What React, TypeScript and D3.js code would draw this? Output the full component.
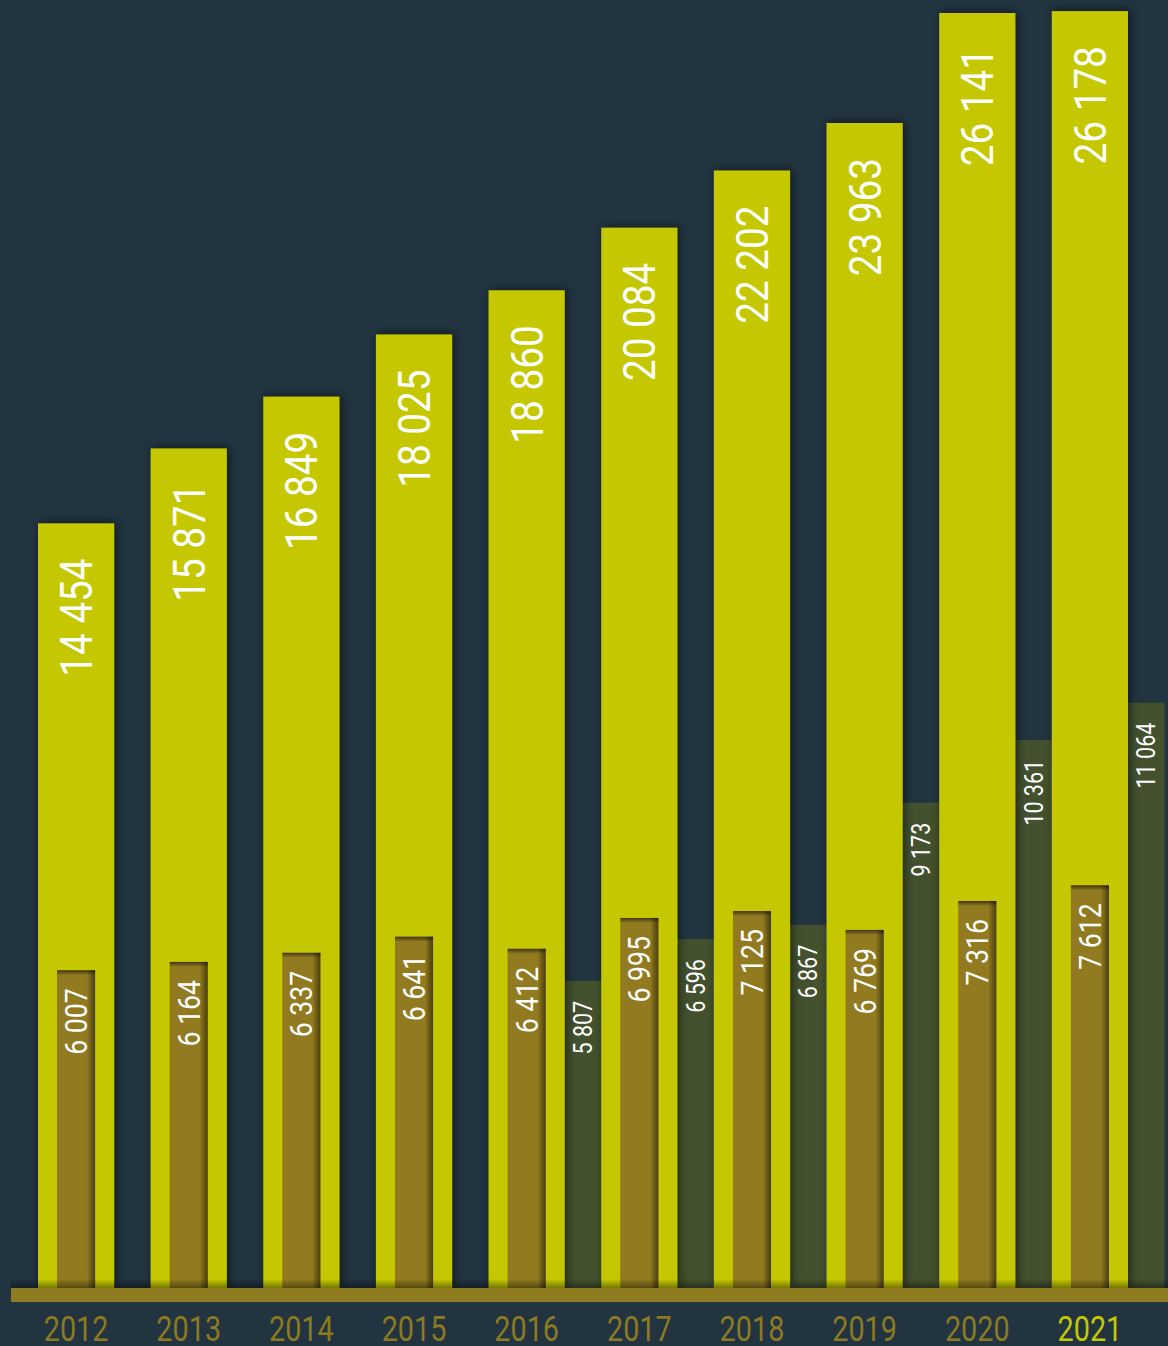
import * as d3 from "d3"
import { useEffect, useRef } from "react"

const years = ["2012", "2013", "2014", "2015", "2016", "2017", "2018", "2019", "2020", "2021"]
const totalValues = [14454, 15871, 16849, 18025, 18860, 20084, 22202, 23963, 26141, 26178]
const innerValues = [6007, 6164, 6337, 6641, 6412, 6995, 7125, 6769, 7316, 7612]
// third series only starts in 2016
const sideValues: (number | null)[] = [null, null, null, null, 5807, 6596, 6867, 9173, 10361, 11064]
const highlightYear = "2021"

const W = 1168
const H = 1346
const baseline = 1288

const colors = {
  bg: "#213440",
  yellow: "#c5c800",
  brown: "#917a1f",
  olive: "#43512e",
  axis: "#8f7b20",
  year: "#8c7a22",
}

const fmt = d3.formatLocale({
  decimal: ",",
  thousands: " ",
  grouping: [3],
  currency: ["", ""],
}).format(",d")

const App = () => {
  const svgRef = useRef<SVGSVGElement | null>(null)

  useEffect(() => {
    if (!svgRef.current) return
    const svg = d3.select(svgRef.current)
    svg.selectAll("*").remove()

    const defs = svg.append("defs")

    const shadow = defs.append("filter").attr("id", "barShadow")
      .attr("x", "-30%").attr("y", "-5%").attr("width", "160%").attr("height", "110%")
    shadow.append("feDropShadow")
      .attr("dx", 2).attr("dy", -1).attr("stdDeviation", 5)
      .attr("flood-color", "#000").attr("flood-opacity", 0.55)

    const rightShade = defs.append("linearGradient").attr("id", "rightShade")
    rightShade.append("stop").attr("offset", "0%").attr("stop-color", "#000").attr("stop-opacity", 0)
    rightShade.append("stop").attr("offset", "100%").attr("stop-color", "#000").attr("stop-opacity", 0.5)

    const topShade = defs.append("linearGradient").attr("id", "topShade")
      .attr("x1", 0).attr("y1", 0).attr("x2", 0).attr("y2", 1)
    topShade.append("stop").attr("offset", "0%").attr("stop-color", "#000").attr("stop-opacity", 0.55)
    topShade.append("stop").attr("offset", "100%").attr("stop-color", "#000").attr("stop-opacity", 0)

    const axisShade = defs.append("linearGradient").attr("id", "axisShade")
      .attr("x1", 0).attr("y1", 0).attr("x2", 0).attr("y2", 1)
    axisShade.append("stop").attr("offset", "0%").attr("stop-color", "#000").attr("stop-opacity", 0)
    axisShade.append("stop").attr("offset", "100%").attr("stop-color", "#000").attr("stop-opacity", 0.4)

    // background
    svg.append("rect").attr("width", W).attr("height", H).attr("fill", colors.bg)

    const x = d3.scaleBand<string>()
      .domain(years)
      .range([38, 1128])
      .paddingInner(0.324)
      .paddingOuter(0)

    // the original is not drawn to one linear scale: the tallest bars are squeezed to fit
    const y = d3.scaleLinear()
      .domain([0, 20000, 24000, 26200])
      .range([baseline, 230, 122, 10])

    const bw = x.bandwidth()
    const gap = x.step() - bw

    const rows = years.map((year, i) => ({
      year,
      total: totalValues[i],
      inner: innerValues[i],
      side: sideValues[i],
    }))
    const sideRows = rows.filter((d) => d.side !== null)

    // side bars (behind the yellow ones so they catch the shadow)
    svg.append("g")
      .selectAll("rect")
      .data(sideRows)
      .join("rect")
      .attr("x", (d) => x(d.year)! + bw)
      .attr("y", (d) => y(d.side!))
      .attr("width", gap)
      .attr("height", (d) => baseline - y(d.side!))
      .attr("fill", colors.olive)

    // main bars
    svg.append("g")
      .attr("filter", "url(#barShadow)")
      .selectAll("rect")
      .data(rows)
      .join("rect")
      .attr("x", (d) => x(d.year)!)
      .attr("y", (d) => y(d.total))
      .attr("width", bw)
      .attr("height", (d) => baseline - y(d.total))
      .attr("fill", colors.yellow)

    // inner bars, sunk into the yellow ones
    const inner = svg.append("g")
      .selectAll("g")
      .data(rows)
      .join("g")
      .attr("transform", (d) => `translate(${x(d.year)! + bw / 4},${y(d.inner)})`)

    inner.append("rect")
      .attr("width", bw / 2)
      .attr("height", (d) => baseline - y(d.inner))
      .attr("fill", colors.brown)
    inner.append("rect")
      .attr("x", bw / 2 - 8)
      .attr("width", 8)
      .attr("height", (d) => baseline - y(d.inner))
      .attr("fill", "url(#rightShade)")
    inner.append("rect")
      .attr("width", bw / 2)
      .attr("height", 5)
      .attr("fill", "url(#topShade)")

    // baseline bar
    svg.append("rect")
      .attr("x", 11).attr("y", baseline - 9)
      .attr("width", W - 11).attr("height", 9)
      .attr("fill", "url(#axisShade)")
    svg.append("rect")
      .attr("x", 11).attr("y", baseline)
      .attr("width", W - 11).attr("height", 14)
      .attr("fill", colors.axis)

    const font = "Roboto, sans-serif"

    // value labels, rotated
    svg.append("g")
      .selectAll("text")
      .data(rows)
      .join("text")
      .attr("transform", (d) =>
        `translate(${x(d.year)! + bw / 2 + 16},${y(d.total) + 35}) rotate(-90) scale(0.86,1)`)
      .attr("text-anchor", "end")
      .attr("fill", "#fff")
      .style("font", `400 45px ${font}`)
      .text((d) => fmt(d.total))

    svg.append("g")
      .selectAll("text")
      .data(rows)
      .join("text")
      .attr("transform", (d) =>
        `translate(${x(d.year)! + bw / 2 + 11},${y(d.inner) + 18}) rotate(-90) scale(0.86,1)`)
      .attr("text-anchor", "end")
      .attr("fill", "#fff")
      .style("font", `400 31px ${font}`)
      .text((d) => fmt(d.inner))

    svg.append("g")
      .selectAll("text")
      .data(sideRows)
      .join("text")
      .attr("transform", (d) =>
        `translate(${x(d.year)! + bw + gap / 2 + 9},${y(d.side!) + 20}) rotate(-90) scale(0.86,1)`)
      .attr("text-anchor", "end")
      .attr("fill", "#fff")
      .style("font", `400 25px ${font}`)
      .text((d) => fmt(d.side!))

    // year labels
    svg.append("g")
      .selectAll("text")
      .data(years)
      .join("text")
      .attr("transform", (d) => `translate(${x(d)! + bw / 2},1341) scale(0.8,1)`)
      .attr("text-anchor", "middle")
      .attr("fill", (d) => (d === highlightYear ? colors.yellow : colors.year))
      .style("font", `400 36px ${font}`)
      .text((d) => d)
  }, [])

  return (
    <svg
      ref={svgRef}
      width={W}
      height={H}
      viewBox={`0 0 ${W} ${H}`}
      style={{ position: "absolute", left: 0, top: 0, display: "block" }}
    />
  )
}

export default App
